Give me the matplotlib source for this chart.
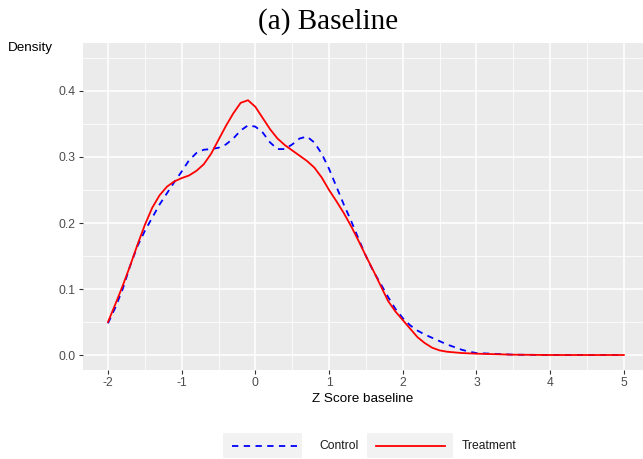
import numpy as np
import matplotlib
matplotlib.use("Agg")
import matplotlib.pyplot as plt
from matplotlib.patches import Rectangle
from matplotlib.lines import Line2D

# -----------------------------------------
# Data (density curves)
# -----------------------------------------
z_grid = [-2.0, -1.9, -1.8, -1.7, -1.6, -1.5, -1.4, -1.3, -1.2, -1.1,
          -1.0, -0.9, -0.8, -0.7, -0.6, -0.5, -0.4, -0.3, -0.2, -0.1,
          0.0, 0.1, 0.2, 0.3, 0.4, 0.5, 0.6, 0.7, 0.8, 0.9,
          1.0, 1.1, 1.2, 1.3, 1.4, 1.5, 1.6, 1.7, 1.8, 1.9,
          2.0, 2.1, 2.2, 2.3, 2.4, 2.5, 2.6, 2.7, 2.8, 2.9,
          3.0, 3.5, 4.0, 4.5, 5.0]

control = [0.048, 0.072, 0.100, 0.135, 0.165, 0.188, 0.208, 0.228, 0.245, 0.262,
           0.278, 0.295, 0.306, 0.311, 0.312, 0.314, 0.319, 0.328, 0.340, 0.348,
           0.346, 0.337, 0.322, 0.312, 0.312, 0.319, 0.328, 0.331, 0.322, 0.305,
           0.282, 0.255, 0.228, 0.203, 0.176, 0.150, 0.127, 0.108, 0.088, 0.070,
           0.056, 0.045, 0.037, 0.031, 0.026, 0.021, 0.016, 0.012, 0.008, 0.005,
           0.003, 0.0005, 0.0, 0.0, 0.0]

treatment = [0.050, 0.077, 0.105, 0.135, 0.167, 0.197, 0.223, 0.242, 0.255, 0.263,
             0.268, 0.272, 0.279, 0.289, 0.305, 0.326, 0.347, 0.366, 0.382, 0.386,
             0.376, 0.359, 0.342, 0.328, 0.318, 0.310, 0.302, 0.294, 0.284, 0.269,
             0.250, 0.233, 0.215, 0.195, 0.173, 0.150, 0.128, 0.105, 0.082, 0.066,
             0.053, 0.040, 0.027, 0.018, 0.011, 0.007, 0.005, 0.004, 0.003, 0.0025,
             0.002, 0.0005, 0.0, 0.0, 0.0]

x_ticks = [-2, -1, 0, 1, 2, 3, 4, 5]
y_ticks = [0.0, 0.1, 0.2, 0.3, 0.4]
series_names = ["Control", "Treatment"]

plt.rcParams["font.family"] = ["Liberation Sans", "DejaVu Sans"]

fig = plt.figure(figsize=(6.43, 4.59), dpi=100)
ax = fig.add_axes([82.7 / 643, 1 - 370 / 459, (643 - 82.7) / 643, (370 - 43) / 459])

# ggplot-like panel
ax.set_facecolor("#EBEBEB")
for s in ax.spines.values():
    s.set_visible(False)
ax.set_xlim(-2.343, 5.26)
ax.set_ylim(-0.0227, 0.4727)
ax.set_xticks(x_ticks)
ax.set_xticklabels([str(t) for t in x_ticks])
ax.set_yticks(y_ticks)
ax.set_yticklabels(["%.1f" % t for t in y_ticks])
ax.set_xticks(np.arange(-1.5, 5, 1.0), minor=True)
ax.set_yticks(np.arange(0.05, 0.46, 0.1), minor=True)
ax.grid(which="major", color="white", lw=1.1)
ax.grid(which="minor", color="white", lw=0.55)
ax.set_axisbelow(True)
ax.tick_params(which="major", length=3.2, width=0.8, color="#333333",
               labelcolor="#4D4D4D", labelsize=8.7, pad=2)
ax.tick_params(which="minor", length=0)

# curves
ax.plot(z_grid, control, color="#0000FF", lw=1.3, linestyle=(0, (3.5, 3)))
ax.plot(z_grid, treatment, color="#FF0000", lw=1.3)

# axis titles
ax.set_xlabel("Z Score baseline", fontsize=9.7, labelpad=3)
fig.text(8 / 643, 1 - 48 / 459, "Density", fontsize=9.7, ha="left", va="center")

# title
fig.text(328 / 643, 1 - 21.5 / 459, "(a) Baseline", fontsize=21,
         family=["Liberation Serif", "DejaVu Serif"], ha="center", va="center")

# legend (drawn by hand to mimic ggplot key boxes)
W, H = 643.0, 459.0
keys = [(223, 302, 232, 300, 319, "#0000FF", (0, (3.5, 3))),
        (367, 453, 376, 445, 462, "#FF0000", "-")]
for (bx0, bx1, lx0, lx1, tx, col, ls), name in zip(keys, series_names):
    fig.add_artist(Rectangle((bx0 / W, 1 - 458 / H), (bx1 - bx0) / W, 25 / H,
                             transform=fig.transFigure, color="#F2F2F2", lw=0))
    fig.add_artist(Line2D([lx0 / W, lx1 / W], [1 - 446 / H, 1 - 446 / H],
                          transform=fig.transFigure, color=col, lw=1.3, linestyle=ls))
    fig.text(tx / W, 1 - 446 / H, name, fontsize=8.7, ha="left", va="center",
             color="#1A1A1A")

fig.savefig("out.png", dpi=100)
